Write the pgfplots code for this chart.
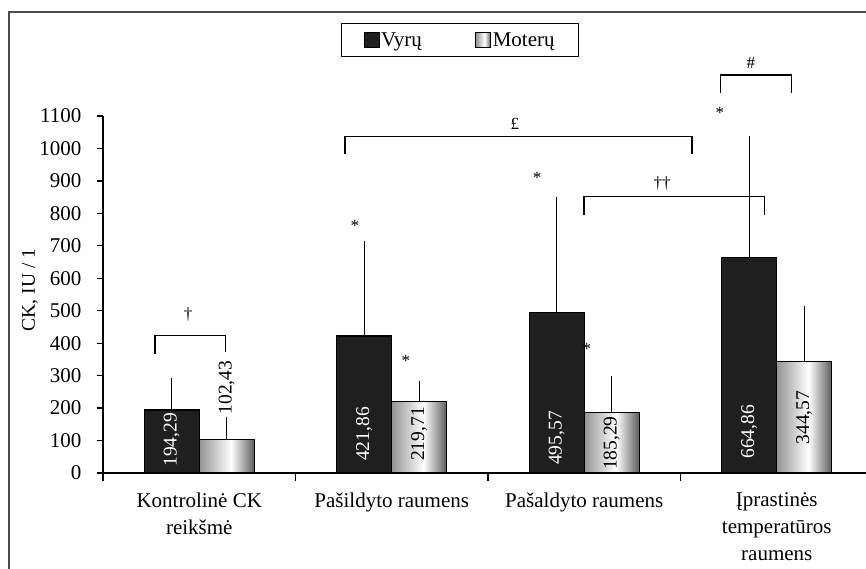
\documentclass[border=0pt]{standalone}
\usepackage{pgfplots}
\pgfplotsset{compat=1.18}
\usepackage{fontspec}
\setmainfont{Liberation Serif}
\newcommand\fbig{\fontsize{21}{27}\selectfont}
\newcommand\flab{\fontsize{19.5}{23}\selectfont}
\newcommand\fsym{\fontsize{17}{20}\selectfont}
\pgfdeclarehorizontalshading{greybar}{100bp}{color(0bp)=(black!42); color(25bp)=(black!42); color(54bp)=(white); color(75bp)=(black!64); color(100bp)=(black!64)}
\pgfplotsset{
  sqlegend/.style={legend image code/.code={\draw[draw=black, fill=black!88, line width=0.8pt] (0pt,-7.5pt) rectangle (15pt,7.5pt);}},
  greyshade/.style={draw=black, line width=1.2pt, shade, shading=greybar},
  greylegend/.style={legend image code/.code={\draw[draw=black, line width=0.8pt, shade, shading=greybar] (0pt,-7.5pt) rectangle (15pt,7.5pt);}},
}
\begin{document}
\begin{tikzpicture}[x=1pt,y=1pt]
\useasboundingbox (0,0) rectangle (866,569);
\clip (0,0) rectangle (866,569);
\draw[line width=1.5pt, black!70] (9,-5) -- (9,557) -- (880,557);
\begin{axis}[
  at={(103pt,96pt)}, anchor=south west,
  width=770pt, height=357pt, scale only axis,
  xmin=-0.5, xmax=3.5, ymin=0, ymax=1100,
  axis x line*=bottom, axis y line*=left,
  axis line style={line width=1.3pt, black},
  clip=false,
  ytick={0,100,...,1100},
  tick align=outside,
  major tick length=6pt, minor tick length=8pt,
  xtick={0,1,2,3}, minor xtick={-0.5,0.5,1.5,2.5,3.5},
  major x tick style={draw=none},
  tick style={black, line width=1.2pt},
  /pgf/number format/assume math mode=true,
  /pgf/number format/1000 sep={},
  yticklabel style={font=\fbig, xshift=-12pt},
  xticklabels={{Kontrolinė CK\\reikšmė},{Pašildyto raumens},{Pašaldyto raumens},{Įprastinės\\temperatūros\\raumens}},
  xticklabel style={font=\fbig, align=center, anchor=north, yshift=-10pt},
  ylabel={CK, IU / 1},
  every axis y label/.style={at={(axis description cs:-0.0948,0.5126)}, rotate=90, anchor=center, font=\fontsize{19.5}{22}\selectfont},
  legend style={at={(0.4636,1.2126)}, anchor=center, draw=black, line width=1pt,
    legend columns=2, font=\fbig, inner xsep=22pt, inner ysep=7pt,
    nodes={inner sep=1.5pt},
    /tikz/every even column/.append style={column sep=52pt}},
  legend cell align=left,
]
\addplot[ybar, bar width=55pt, bar shift=-27.5pt, fill=black!88, draw=black, line width=1.2pt, sqlegend]
  coordinates {(0,194.29) (1,421.86) (2,495.57) (3,664.86)};
\addlegendentry{Vyrų}
% grey bars (Moterų), one shaded rectangle each
\addplot[greyshade, greylegend] coordinates {(0,0) (0,102.43) (0.285714,102.43) (0.285714,0)} \closedcycle;
\addlegendentry{Moterų}
\addplot[greyshade, forget plot] coordinates {(1,0) (1,219.71) (1.285714,219.71) (1.285714,0)} \closedcycle;
\addplot[greyshade, forget plot] coordinates {(2,0) (2,185.29) (2.285714,185.29) (2.285714,0)} \closedcycle;
\addplot[greyshade, forget plot] coordinates {(3,0) (3,344.57) (3.285714,344.57) (3.285714,0)} \closedcycle;
% error bars
\addplot[forget plot, draw=none, mark=none,
  error bars/.cd, y dir=plus, y explicit,
  error bar style={draw=black, line width=1.2pt},
  error mark options={draw=black, line width=1.2pt, mark size=5pt}]
  coordinates {(-0.142857,194.29) +- (0,84) (0.857143,421.86) +- (0,277) (1.857143,495.57) +- (0,339) (2.857143,664.86) +- (0,359)};
\addplot[forget plot, draw=none, mark=none,
  error bars/.cd, y dir=plus, y explicit,
  error bar style={draw=black, line width=1.2pt},
  error mark options={draw=black, line width=1.2pt, mark size=5pt}]
  coordinates {(0.142857,102.43) +- (0,56) (1.142857,219.71) +- (0,48) (2.142857,185.29) +- (0,99) (3.142857,344.57) +- (0,155)};
% value labels
\addplot[forget plot, draw=none, mark=none, nodes near coords, point meta=explicit symbolic,
  every node near coord/.style={white, rotate=90, anchor=center, font=\flab, inner sep=0pt}]
  table[meta=l] {
x y l
-0.142857 102 194,29
0.857143 120 421,86
1.857143 108 495,57
2.857143 127 664,86
};
\addplot[forget plot, draw=none, mark=none, nodes near coords, point meta=explicit symbolic,
  every node near coord/.style={black, rotate=90, anchor=center, font=\flab, inner sep=0pt}]
  table[meta=l] {
x y l
0.142857 263 102,43
1.142857 120 219,71
2.142857 92 185,29
3.142857 171 344,57
};
% significance brackets
\draw[line width=1.2pt] (axis cs:-0.230,368) |- (axis cs:0.135,424) -- (axis cs:0.135,372);
\draw[line width=1.2pt] (axis cs:0.757,984) |- (axis cs:2.560,1038) -- (axis cs:2.560,984);
\draw[line width=1.2pt] (axis cs:1.999,795) |- (axis cs:2.935,851) -- (axis cs:2.935,795);
\draw[line width=1.2pt] (axis cs:2.709,1170) |- (axis cs:3.078,1226) -- (axis cs:3.078,1170);
\node[font=\fsym] at (axis cs:-0.058,488) {†};
\node[font=\fsym] at (axis cs:1.640,1077) {£};
\node[font=\fsym] at (axis cs:2.404,893) {††};
\node[font=\fsym] at (axis cs:2.866,1262) {\#};
\node[font=\fsym] at (axis cs:0.809,760) {*};
\node[font=\fsym] at (axis cs:1.074,344) {*};
\node[font=\fsym] at (axis cs:1.755,910) {*};
\node[font=\fsym] at (axis cs:2.014,383) {*};
\node[font=\fsym] at (axis cs:2.705,1110) {*};
\end{axis}
\end{tikzpicture}
\end{document}
